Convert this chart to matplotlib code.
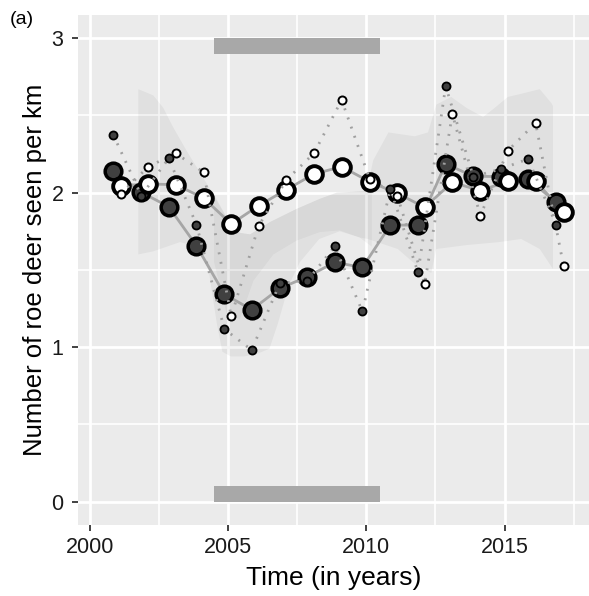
import matplotlib
matplotlib.use("Agg")
import matplotlib.pyplot as plt
import numpy as np

plt.rcParams["font.family"] = ["Liberation Sans", "DejaVu Sans"]

# smoothed (large) and raw (small) counts, dark series
dark_x = [2000.85, 2001.87, 2002.86, 2003.86, 2004.87, 2005.86, 2006.87, 2007.87, 2008.86,
          2009.86, 2010.87, 2011.87, 2012.87, 2013.87, 2014.86, 2015.85, 2016.87]
dark_smooth = [2.143, 2.002, 1.909, 1.657, 1.343, 1.242, 1.380, 1.456, 1.549,
               1.516, 1.790, 1.790, 2.186, 2.106, 2.104, 2.089, 1.937]
dark_raw = [2.376, 1.981, 2.222, 1.793, 1.117, 0.981, 1.413, 1.430, 1.652,
            1.231, 2.024, 1.484, 2.689, 2.104, 2.153, 2.218, 1.790]

# white series
white_x = [2001.12, 2002.12, 2003.11, 2004.12, 2005.12, 2006.11, 2007.11, 2008.11, 2009.11,
           2010.12, 2011.12, 2012.11, 2013.11, 2014.12, 2015.12, 2016.12, 2017.13]
white_smooth = [2.045, 2.056, 2.052, 1.965, 1.797, 1.916, 2.019, 2.121, 2.168,
                2.071, 1.996, 1.905, 2.067, 2.013, 2.073, 2.073, 1.877]
white_raw = [1.991, 2.168, 2.255, 2.132, 1.199, 1.786, 2.082, 2.255, 2.600,
             2.089, 1.981, 1.408, 2.510, 1.851, 2.272, 2.451, 1.527]

# envelope
rib_up_x = [2001.76, 2002.30, 2002.66, 2003.0, 2003.51, 2004.23, 2004.95, 2005.43, 2005.80,
            2006.52, 2007.48, 2008.32, 2008.93, 2010.01, 2010.25, 2010.80, 2011.75,
            2012.23, 2012.53, 2013.07, 2013.61, 2014.22, 2014.58, 2015.12, 2015.60,
            2016.27, 2016.69, 2016.75]
rib_up = [2.67, 2.63, 2.55, 2.43, 2.27, 2.06, 1.84, 1.74, 1.73,
          1.81, 1.895, 1.96, 2.00, 2.01, 2.21, 2.39, 2.365,
          2.39, 2.57, 2.62, 2.55, 2.49, 2.54, 2.62, 2.64,
          2.67, 2.58, 2.56]
rib_lo_x = [2001.76, 2002.30, 2003.27, 2003.87, 2004.30, 2004.60, 2004.80, 2005.10, 2005.60,
            2006.10, 2006.50, 2006.80, 2007.20, 2007.60, 2008.30, 2009.04, 2009.76,
            2010.06, 2011.14, 2011.75, 2012.35, 2012.53, 2013.60, 2014.80, 2015.60,
            2016.27, 2016.75]
rib_lo = [1.60, 1.62, 1.68, 1.65, 1.50, 1.15, 0.97, 0.94, 0.94,
          0.96, 0.99, 1.15, 1.40, 1.55, 1.70, 1.75, 1.71,
          1.70, 1.635, 1.54, 1.48, 1.635, 1.66, 1.68, 1.70,
          1.635, 1.505]

# darker middle band
band_up_x = [2004.50, 2004.95, 2005.43, 2005.80, 2006.52, 2007.48, 2008.32, 2008.93, 2010.01, 2010.20]
band_up = [1.99, 1.84, 1.74, 1.73, 1.81, 1.895, 1.96, 2.00, 2.01, 2.15]
band_lo_x = [2004.50, 2004.95, 2005.43, 2005.92, 2006.64, 2007.48, 2008.32, 2009.04, 2009.76, 2010.20]
band_lo = [1.55, 1.22, 1.18, 1.43, 1.60, 1.69, 1.745, 1.756, 1.71, 1.65]

# grey bars marking the period
bar_start, bar_end = 2004.5, 2010.5
bar_bottoms = [0.0, 2.9]
bar_height = 0.1

fig = plt.figure(figsize=(5.89, 5.96), dpi=100)
ax = fig.add_axes([78 / 589, (596 - 524.8) / 596, 511 / 589, 509.8 / 596])
ax.set_facecolor("#EBEBEB")
for s in ax.spines.values():
    s.set_visible(False)

ax.set_xlim(1999.58, 2018.05)
ax.set_ylim(-0.15, 3.15)
ax.set_xticks([2000, 2005, 2010, 2015])
ax.set_xticks([2002.5, 2007.5, 2012.5, 2017.5], minor=True)
ax.set_yticks([0, 1, 2, 3])
ax.set_yticks([0.5, 1.5, 2.5], minor=True)
ax.set_axisbelow(True)
ax.grid(which="major", color="white", lw=2.0)
ax.grid(which="minor", color="white", lw=1.2)
ax.tick_params(which="major", length=4.5, width=1.3, color="#333333",
               labelsize=15.5, labelcolor="#1a1a1a")
ax.tick_params(axis="y", pad=6)
ax.tick_params(axis="x", pad=4)
ax.tick_params(which="minor", length=0)

# envelope
ax.fill(np.r_[rib_up_x, rib_lo_x[::-1]], np.r_[rib_up, rib_lo[::-1]],
        color="black", alpha=0.045, lw=0, zorder=1)
ax.fill(np.r_[band_up_x, band_lo_x[::-1]], np.r_[band_up, band_lo[::-1]],
        color="black", alpha=0.035, lw=0, zorder=1)

for b in bar_bottoms:
    ax.bar(bar_start, bar_height, width=bar_end - bar_start, bottom=b, align="edge",
           color="#A8A8A8", lw=0, zorder=2)

# smoothed lines
ax.plot(dark_x, dark_smooth, color="#A6A6A6", lw=2.0, zorder=3)
ax.plot(white_x, white_smooth, color="#A6A6A6", lw=2.0, zorder=3)
ax.plot(dark_x, dark_smooth, ls="none", marker="o", ms=12, mfc="#404040",
        mec="black", mew=2.5, zorder=4)
ax.plot(white_x, white_smooth, ls="none", marker="o", ms=12, mfc="white",
        mec="black", mew=2.8, zorder=4)

# raw values, dotted
ax.plot(dark_x, dark_raw, color="#A0A0A0", lw=2.0, ls=(0, (0.7, 2.8)), zorder=5)
ax.plot(white_x, white_raw, color="#A0A0A0", lw=2.0, ls=(0, (0.7, 2.8)), zorder=5)
ax.plot(dark_x, dark_raw, ls="none", marker="o", ms=5.8, mfc="#404040",
        mec="black", mew=1.3, zorder=6)
ax.plot(white_x, white_raw, ls="none", marker="o", ms=5.8, mfc="white",
        mec="black", mew=1.4, zorder=6)

ax.set_xlabel("Time (in years)", fontsize=19)
ax.set_ylabel("Number of roe deer seen per km", fontsize=18.5)
ax.xaxis.set_label_coords(0.5, (524.8 - 578) / 509.8)
ax.xaxis.label.set_va("center")
ax.yaxis.set_label_coords((35 - 78) / 511, 0.5)
ax.yaxis.label.set_va("center")

fig.text(10 / 589, 1 - 20 / 596, "(a)", fontsize=14, ha="left", va="center")

fig.savefig("out.png", dpi=100)
